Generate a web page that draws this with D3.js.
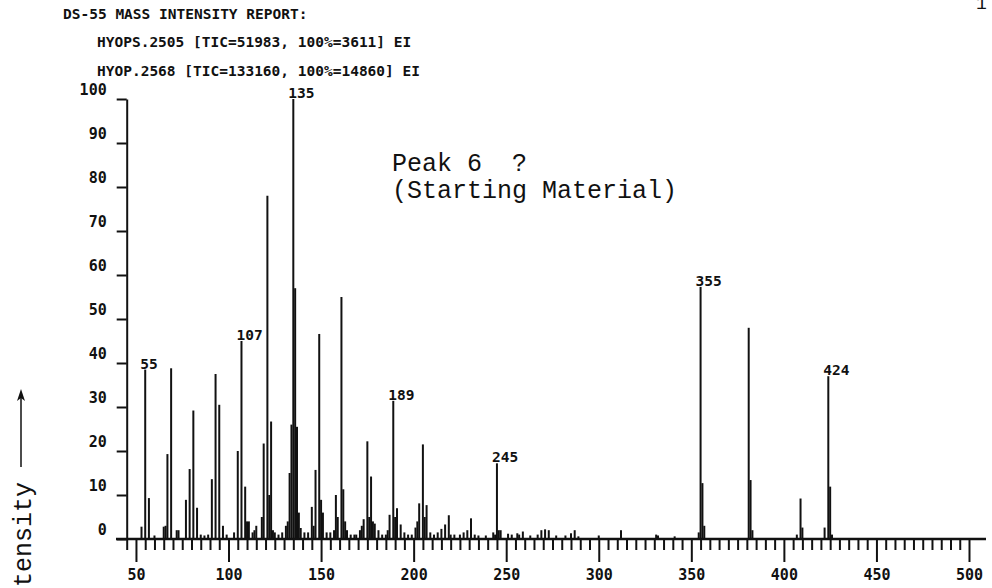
<!DOCTYPE html>
<html>
<head>
<meta charset="utf-8">
<script src="https://cdn.jsdelivr.net/npm/d3@7"></script>
<style>
body{margin:0;background:#fff}
svg{display:block}
</style>
</head>
<body>
<svg></svg>
<script>
var header = [
  "DS-55 MASS INTENSITY REPORT:",
  "HYOPS.2505 [TIC=51983, 100%=3611] EI",
  "HYOP.2568 [TIC=133160, 100%=14860] EI"
]

// m/z of each line and its relative intensity (%)
var mass = [53,55,57,60,65,66,67,69,72,73,77,79,81,83,85,87,89,91,93,95,97,99,
  103,105,107,109,110,111,113,114,115,118,119,121,122,123,124,125,127,129,131,132,133,134,135,136,137,138,139,
  141,143,145,146,147,149,150,151,153,155,157,158,159,161,162,163,164,166,168,169,
  171,172,173,175,176,177,178,179,181,183,185,186,187,189,190,191,193,195,197,199,
  201,202,203,205,206,207,209,211,213,215,217,219,220,222,225,227,229,231,233,235,239,
  243,244,245,246,247,251,253,256,257,259,263,267,269,271,273,277,282,285,287,289,
  300,312,331,332,341,354,355,356,357,381,382,383,407,409,410,422,424,425,426]
var intensity = [2.8,38.5,9.3,0.8,2.8,3,19.3,38.8,2,2,8.9,15.9,29.2,7.1,1,0.8,1,13.6,37.5,30.5,3,1,
  1.5,20,45,11.9,4,4,1.5,2,3,5,21.7,78,10,26.7,2,1.5,1,1.5,3,4,15,26,100,57,25.5,6,2.5,
  1.5,1.5,7.3,3,15.7,46.6,8.9,6,1.5,1.5,2,10,5,55,11.3,4,2,1,1,1,
  2,3,4.5,22.2,5,14.2,4,3.5,2,1,1,2,5.5,31.4,5,7,3.3,1.5,1,1,
  2.6,4,8.1,21.5,5,7.7,1.5,1,1.5,2.3,3.3,5.4,1,1,1,1.5,2,4.7,1,0.8,0.8,
  1.5,1,17.2,2,2,1.2,1,1.3,1,1.7,0.8,1,2,2.2,2,0.8,0.8,1.3,2,0.6,
  0.8,2,1,0.8,0.6,1.5,57.3,12.7,3,48,13.4,2,1,9.2,2.6,2.6,37,11.9,1]

var labelled = [55,107,135,189,245,355,424]
var yTicks = [0,10,20,30,40,50,60,70,80,90,100]
var xLabels = [50,100,150,200,250,300,350,400,450,500]
var note = ["Peak 6  ?", "(Starting Material)"]

var ink = "#111"
var dot = "'DejaVu Sans Mono', monospace"
var typewriter = "'Liberation Mono', monospace"

var svg = d3.select("svg").attr("width",992).attr("height",588)

var x = d3.scaleLinear().domain([45,500]).range([126.7,969])
var y = d3.scaleLinear().domain([0,100]).range([539,99])

// header lines
svg.selectAll("text.head")
  .data(header)
  .enter()
  .append("text")
  .attr("class","head")
  .attr("x",(d,i)=>i==0?63:97)
  .attr("y",(d,i)=>[19,47,76][i])
  .text(d=>d)
  .style("font-family",dot).style("font-size","14.5px").style("font-weight","bold")
  .attr("fill",ink)

svg.append("text").attr("x",976).attr("y",9).text("1")
  .style("font-family",typewriter).style("font-size","18px").attr("fill",ink)

// y axis
var yAxis = svg.append("g")
  .attr("transform","translate("+x(45)+",0)")
  .call(d3.axisLeft(y).tickValues(yTicks).tickSize(10).tickPadding(10).tickSizeOuter(0))
yAxis.select(".domain").attr("stroke",ink).attr("stroke-width",2)
yAxis.selectAll(".tick line").attr("stroke",ink).attr("stroke-width",2)
yAxis.selectAll(".tick text")
  .attr("dy","-0.3em")
  .style("font-family",dot).style("font-size","15px").style("font-weight","bold")
  .attr("fill",ink)

// x axis: short ticks every 5, long ones every 50
var xMinor = svg.append("g")
  .attr("transform","translate(0,"+y(0)+")")
  .call(d3.axisBottom(x).tickValues(d3.range(45,501,5).filter(v=>v%50)).tickSize(11).tickFormat("").tickSizeOuter(0))
xMinor.select(".domain").remove()
xMinor.selectAll(".tick line").attr("stroke",ink).attr("stroke-width",2)

var xMajor = svg.append("g")
  .attr("transform","translate(0,"+y(0)+")")
  .call(d3.axisBottom(x).tickValues(xLabels).tickSize(23).tickPadding(7).tickSizeOuter(0))
xMajor.select(".domain").remove()
xMajor.selectAll(".tick line").attr("stroke",ink).attr("stroke-width",2)
xMajor.selectAll(".tick text")
  .style("font-family",dot).style("font-size","15px").style("font-weight","bold")
  .attr("fill",ink)

svg.append("line")
  .attr("x1",116).attr("x2",986)
  .attr("y1",y(0)).attr("y2",y(0))
  .attr("stroke",ink).attr("stroke-width",2.5)

// spectrum lines
var peaks = mass.map((m,i)=>({m:m, h:intensity[i]}))
svg.selectAll("line.peak")
  .data(peaks)
  .enter()
  .append("line")
  .attr("class","peak")
  .attr("x1",d=>x(d.m)).attr("x2",d=>x(d.m))
  .attr("y1",y(0)).attr("y2",d=>y(d.h))
  .attr("stroke",ink).attr("stroke-width",2)

svg.selectAll("text.mz")
  .data(peaks.filter(d=>labelled.indexOf(d.m)>=0))
  .enter()
  .append("text")
  .attr("class","mz")
  .attr("x",d=>x(d.m)-5)
  .attr("y",d=>y(d.h)-1)
  .text(d=>d.m)
  .style("font-family",dot).style("font-size","14.5px").style("font-weight","bold")
  .attr("fill",ink)

// typed annotation
svg.selectAll("text.note")
  .data(note)
  .enter()
  .append("text")
  .attr("class","note")
  .attr("x",392)
  .attr("y",(d,i)=>171+i*27)
  .attr("xml:space","preserve")
  .style("white-space","pre")
  .text(d=>d)
  .style("font-family",typewriter).style("font-size","25px")
  .attr("fill",ink)

// "Intensity" arrow at the left edge
svg.append("text")
  .attr("transform","translate(31,482) rotate(-90)")
  .attr("text-anchor","end")
  .text("Intensity")
  .style("font-family",typewriter).style("font-size","25px")
  .attr("fill",ink)
svg.append("line")
  .attr("x1",21).attr("x2",21).attr("y1",467).attr("y2",396)
  .attr("stroke",ink).attr("stroke-width",1.5)
svg.append("path")
  .attr("d","M21,389 L17,401 L21,398 L25,401 Z")
  .attr("fill",ink)
</script>
</body>
</html>
